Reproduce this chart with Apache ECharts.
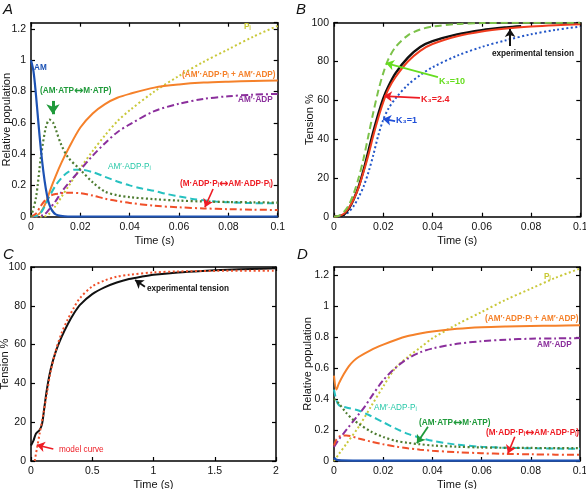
<!DOCTYPE html>
<html><head><meta charset="utf-8">
<script src="https://cdn.jsdelivr.net/npm/echarts@6/dist/echarts.min.js"></script>
<style>html,body{margin:0;padding:0;background:#fff}#c{width:586px;height:489px}</style>
</head><body><div id="c"></div>
<script>
// ---------- Panel A data (time s, relative population) ----------
const A_AM = [[0,1],[0.001,0.93],[0.002,0.78],[0.003,0.6],[0.004,0.43],[0.005,0.29],[0.006,0.18],[0.007,0.1],[0.008,0.055],[0.009,0.03],[0.01,0.015],[0.012,0.005],[0.015,0.0],[0.05,0],[0.1,0]];
const A_ATP = [[0,0],[0.002,0.12],[0.004,0.38],[0.006,0.57],[0.0075,0.62],[0.009,0.6],[0.01,0.56],[0.012,0.47],[0.015,0.38],[0.02,0.3],[0.025,0.22],[0.03,0.16],[0.035,0.137],[0.04,0.125],[0.05,0.112],[0.06,0.103],[0.07,0.097],[0.08,0.094],[0.09,0.092],[0.1,0.09]];
const A_SUM = [[0,0],[0.002,0.005],[0.004,0.03],[0.006,0.09],[0.008,0.18],[0.01,0.26],[0.0125,0.35],[0.015,0.43],[0.02,0.57],[0.025,0.66],[0.03,0.72],[0.035,0.76],[0.04,0.785],[0.05,0.825],[0.06,0.845],[0.07,0.857],[0.08,0.863],[0.09,0.867],[0.1,0.87]];
const A_ADPPI = [[0,0],[0.003,0.01],[0.005,0.05],[0.0075,0.13],[0.01,0.2],[0.0125,0.25],[0.015,0.285],[0.0175,0.3],[0.02,0.3],[0.025,0.285],[0.03,0.255],[0.035,0.225],[0.04,0.2],[0.045,0.18],[0.05,0.165],[0.055,0.145],[0.06,0.13],[0.065,0.115],[0.07,0.105],[0.075,0.097],[0.08,0.092],[0.09,0.087],[0.1,0.085]];
const A_MADPPI = [[0,0],[0.002,0.02],[0.004,0.07],[0.006,0.11],[0.008,0.135],[0.01,0.145],[0.015,0.153],[0.02,0.15],[0.025,0.135],[0.03,0.115],[0.035,0.1],[0.04,0.088],[0.05,0.07],[0.06,0.06],[0.07,0.053],[0.08,0.048],[0.09,0.045],[0.1,0.043]];
const A_ADP = [[0,0],[0.005,0.01],[0.0075,0.05],[0.01,0.1],[0.0125,0.16],[0.015,0.21],[0.02,0.3],[0.025,0.39],[0.03,0.47],[0.035,0.54],[0.04,0.59],[0.05,0.675],[0.06,0.722],[0.07,0.753],[0.08,0.77],[0.09,0.78],[0.1,0.785]];
const A_PI = [[0,0],[0.005,0.0],[0.0075,0.02],[0.01,0.07],[0.0125,0.13],[0.015,0.19],[0.02,0.31],[0.025,0.42],[0.03,0.52],[0.035,0.61],[0.04,0.68],[0.05,0.8],[0.06,0.9],[0.07,0.99],[0.08,1.07],[0.09,1.15],[0.1,1.22]];

// ---------- Panel B data (time s, tension %) ----------
const B_K10 = [[0,0],[0.002,0.5],[0.004,2.5],[0.006,6],[0.008,12],[0.01,20],[0.012,30],[0.014,42],[0.016,54],[0.018,65],[0.02,74],[0.022,81],[0.025,87.5],[0.03,93.5],[0.035,96.5],[0.04,98],[0.05,99.3],[0.06,99.8],[0.08,100],[0.1,100]];
const B_K24 = [[0,0],[0.002,0.3],[0.004,1.5],[0.006,4.5],[0.008,9],[0.01,15],[0.012,23],[0.014,32],[0.016,42],[0.018,51],[0.02,59],[0.022,65.5],[0.025,72],[0.03,80],[0.035,85.5],[0.04,89],[0.05,93],[0.06,95.5],[0.07,97],[0.08,98],[0.09,98.7],[0.1,99.2]];
const B_EXP = [[0,0],[0.002,0.3],[0.004,1],[0.006,4],[0.008,9],[0.01,15.5],[0.012,24],[0.014,34],[0.016,44],[0.018,53],[0.02,61],[0.022,67],[0.025,74],[0.03,82],[0.035,87.5],[0.04,90.5],[0.05,94],[0.06,96.2],[0.07,97.6],[0.076,98.2]];
const B_K1 = [[0,0],[0.002,0.1],[0.004,0.8],[0.006,2.5],[0.008,5.5],[0.01,10],[0.012,15.5],[0.014,23],[0.016,32],[0.018,42],[0.02,50],[0.022,55.5],[0.025,61],[0.03,68],[0.035,73],[0.04,77],[0.05,83],[0.06,87.5],[0.07,91],[0.08,94],[0.09,96.3],[0.1,98]];

// ---------- Panel C data (time s, tension %) ----------
const C_EXP = [[0,8],[0.02,10.5],[0.04,14],[0.07,16],[0.09,19],[0.11,28],[0.13,37],[0.16,47],[0.2,56],[0.25,64],[0.3,70.5],[0.35,76],[0.4,80.5],[0.5,86],[0.6,89.5],[0.7,92],[0.8,93.8],[0.9,95],[1.0,96],[1.2,97.2],[1.4,98],[1.6,98.6],[1.8,99],[2.0,99.3]];
const C_MODEL = [[0.03,0],[0.05,7],[0.07,14],[0.1,24],[0.13,35],[0.16,46],[0.2,56.5],[0.25,66],[0.3,73],[0.35,79],[0.4,84],[0.5,90],[0.6,93],[0.7,95],[0.8,96],[1.0,97.2],[1.2,97.7],[1.5,98],[2.0,98.1]];

// ---------- Panel D data (time s, relative population) ----------
const D_AM = [[0,0.02],[0.001,0.008],[0.003,0.004],[0.01,0.003],[0.1,0.003]];
const D_SUM = [[0,0.55],[0.001,0.46],[0.002,0.5],[0.004,0.56],[0.006,0.61],[0.008,0.645],[0.01,0.67],[0.015,0.715],[0.02,0.75],[0.025,0.78],[0.03,0.805],[0.035,0.822],[0.04,0.835],[0.05,0.852],[0.06,0.862],[0.07,0.867],[0.08,0.87],[0.09,0.872],[0.1,0.874]];
const D_ADP = [[0,0.09],[0.002,0.14],[0.004,0.18],[0.006,0.22],[0.008,0.26],[0.01,0.3],[0.0125,0.35],[0.015,0.41],[0.02,0.52],[0.025,0.6],[0.03,0.66],[0.035,0.7],[0.04,0.725],[0.05,0.755],[0.06,0.772],[0.07,0.782],[0.08,0.788],[0.09,0.79],[0.1,0.792]];
const D_PI = [[0,0],[0.002,0.045],[0.005,0.11],[0.01,0.22],[0.015,0.35],[0.02,0.48],[0.025,0.6],[0.03,0.67],[0.035,0.73],[0.04,0.79],[0.05,0.88],[0.06,0.96],[0.07,1.04],[0.08,1.11],[0.09,1.18],[0.1,1.24]];
const D_ADPPI = [[0,0.46],[0.001,0.39],[0.002,0.36],[0.005,0.345],[0.01,0.325],[0.015,0.29],[0.02,0.25],[0.025,0.21],[0.03,0.175],[0.035,0.15],[0.04,0.13],[0.05,0.105],[0.06,0.092],[0.07,0.085],[0.08,0.082],[0.09,0.08],[0.1,0.079]];
const D_ATP = [[0,0.4],[0.002,0.37],[0.005,0.31],[0.0075,0.27],[0.01,0.24],[0.015,0.19],[0.02,0.155],[0.025,0.13],[0.03,0.117],[0.035,0.108],[0.04,0.1],[0.05,0.092],[0.06,0.087],[0.07,0.085],[0.08,0.084],[0.1,0.083]];
const D_MADPPI = [[0,0.1],[0.001,0.14],[0.0025,0.16],[0.005,0.165],[0.01,0.145],[0.015,0.125],[0.02,0.108],[0.025,0.093],[0.03,0.082],[0.035,0.073],[0.04,0.066],[0.05,0.057],[0.06,0.05],[0.07,0.046],[0.08,0.043],[0.09,0.041],[0.1,0.04]];

// ---------- Axis ticks ----------
const popTicks = [0, 0.2, 0.4, 0.6, 0.8, 1, 1.2];
const tensionTicks = [0, 20, 40, 60, 80, 100];
const timeTicksShort = [0, 0.02, 0.04, 0.06, 0.08, 0.1];
const timeTicksLong = [0, 0.5, 1, 1.5, 2];

const FONT = 'Liberation Sans, Arial, sans-serif';
const COL = {blue:'#1d52b4', orange:'#f5812a', green:'#4f7d32', greenLbl:'#1f9a3a', cyan:'#26c1c0', cyanLbl:'#27c8a8', purple:'#8b2f9c', red:'#f0502a', redLbl:'#ee1c24', yellow:'#c9c83a', yellowLbl:'#c8c832'};

const grids = [
  {left:31, top:22.7, width:246.7, height:194},
  {left:334, top:22.7, width:246.3, height:194},
  {left:31, top:267, width:245, height:194},
  {left:334, top:267, width:246, height:194}
].map(g => Object.assign(g, {outerBoundsMode:'none', containLabel:false}));

const xCfg = [
  {min:0,max:0.1,interval:0.02,name:'Time (s)'},
  {min:0,max:0.1,interval:0.02,name:'Time (s)'},
  {min:0,max:2,interval:0.5,name:'Time (s)'},
  {min:0,max:0.1,interval:0.02,name:'Time (s)'}
];
const yCfg = [
  {min:0,max:1.24,interval:0.2,name:'Relative population',gap:19},
  {min:0,max:100,interval:20,name:'Tension %',gap:19},
  {min:0,max:100,interval:20,name:'Tension %',gap:21},
  {min:0,max:1.25,interval:0.2,name:'Relative population',gap:21}
];

const xAxis = [], yAxis = [];
xCfg.forEach((c,i)=>{
  xAxis.push({type:'value',gridIndex:i,min:c.min,max:c.max,interval:c.interval,position:'bottom',
    name:c.name,nameLocation:'middle',nameGap:18.5,nameTextStyle:{fontFamily:FONT,fontSize:11,color:'#111'},
    axisLine:{show:true,onZero:false,lineStyle:{color:'#000',width:1.5}},
    axisTick:{show:true,inside:true,length:4,lineStyle:{color:'#000',width:1.2}},
    axisLabel:{fontFamily:FONT,fontSize:10.5,color:'#111',margin:5,formatter:v=>String(+v.toFixed(3))},
    splitLine:{show:false}});
  xAxis.push({type:'value',gridIndex:i,min:c.min,max:c.max,interval:c.interval,position:'top',
    axisLine:{show:true,onZero:false,lineStyle:{color:'#000',width:1.5}},
    axisTick:{show:true,inside:true,length:4,lineStyle:{color:'#000',width:1.2}},
    axisLabel:{show:false},splitLine:{show:false}});
});
yCfg.forEach((c,i)=>{
  yAxis.push({type:'value',gridIndex:i,min:c.min,max:c.max,interval:c.interval,position:'left',
    name:c.name,nameLocation:'middle',nameGap:c.gap,nameMoveOverlap:false,
    nameTextStyle:{fontFamily:FONT,fontSize:11,color:'#111'},
    axisLine:{show:true,onZero:false,lineStyle:{color:'#000',width:1.5}},
    axisTick:{show:true,inside:true,length:4,lineStyle:{color:'#000',width:1.2}},
    axisLabel:{fontFamily:FONT,fontSize:10.5,color:'#111',margin:5,showMaxLabel:c.max===100,
      formatter:v=>String(+v.toFixed(3))},
    splitLine:{show:false}});
  yAxis.push({type:'value',gridIndex:i,min:c.min,max:c.max,interval:c.interval,position:'right',
    axisLine:{show:true,onZero:false,lineStyle:{color:'#000',width:1.5}},
    axisTick:{show:true,inside:true,length:4,lineStyle:{color:'#000',width:1.2}},
    axisLabel:{show:false},splitLine:{show:false}});
});

const DASH = [7,4], DOT = [2,2.5], DASHDOT = [7,3,2,3];
function line(data, gi, color, type, width, z) {
  return {type:'line', xAxisIndex:2*gi, yAxisIndex:2*gi, data:data, showSymbol:false,
    smooth:0.3, z:z||2, silent:true, animation:false,
    lineStyle:{color:color, width:width||2, type:type||'solid'}};
}
function arrow(gi, from, to, color, size, width) {
  return {type:'line', xAxisIndex:2*gi, yAxisIndex:2*gi, data:[], silent:true, animation:false,
    markLine:{silent:true, animation:false, symbol:['none','arrow'], symbolSize:size||8,
      label:{show:false}, lineStyle:{color:color, width:width||1.6, type:'solid'},
      data:[[{coord:from},{coord:to}]]}};
}

const series = [
  // A
  line(A_PI,0,COL.yellow,DOT,2),
  line(A_ADP,0,COL.purple,DASHDOT,2),
  line(A_SUM,0,COL.orange,'solid',2),
  line(A_ADPPI,0,COL.cyan,DASH,2),
  line(A_MADPPI,0,COL.red,DASHDOT,2),
  line(A_ATP,0,COL.green,DOT,2.2),
  line(A_AM,0,COL.blue,'solid',2.2,5),
  arrow(0,[0.0089,0.74],[0.0089,0.655],COL.greenLbl,[10,10],3),
  arrow(0,[0.0738,0.177],[0.0705,0.061],COL.redLbl,8,1.6),
  // B
  line(B_K1,1,'#2256c8',DOT,2),
  line(B_EXP,1,'#111',"solid",2.4),
  line(B_K24,1,'#f03c1e','solid',2),
  line(B_K10,1,'#7cc24a',DASH,2),
  arrow(1,[0.0715,88],[0.0715,96.8],'#111',8,2),
  arrow(1,[0.0422,72],[0.0211,79.2],'#66dd1f',8,1.8),
  arrow(1,[0.0349,61.2],[0.0203,62.2],'#ee1c24',8,1.8),
  arrow(1,[0.0248,49.3],[0.0199,50.4],'#1f4fd8',8,1.8),
  // C
  line(C_EXP,2,'#111','solid',2),
  line(C_MODEL,2,'#f0502a',DOT,2),
  arrow(2,[0.93,89.8],[0.85,93.3],'#111',8,1.8),
  arrow(2,[0.182,6.2],[0.047,8.2],'#ee1c24',8,1.6),
  // D
  line(D_PI,3,COL.yellow,DOT,2),
  line(D_ADP,3,COL.purple,DASHDOT,2),
  line(D_SUM,3,COL.orange,'solid',2),
  line(D_ADPPI,3,COL.cyan,DASH,2),
  line(D_MADPPI,3,COL.red,DASHDOT,2),
  line(D_ATP,3,COL.green,DOT,2.2),
  line(D_AM,3,COL.blue,'solid',2.2,5),
  arrow(3,[0.0382,0.22],[0.0337,0.114],COL.greenLbl,8,1.8),
  arrow(3,[0.0735,0.156],[0.0707,0.049],COL.redLbl,8,1.6)
];

const LB = 8.2;
function txt(x,y,text,color,opts) {
  opts = opts||{};
  const size = opts.size||LB;
  const font = (opts.italic?'italic ':'')+(opts.bold===false?'':'bold ')+size+'px '+FONT;
  return {type:'text', x:x, y:y, silent:true, z:50,
    style:{text:text, fill:color, font:font, textAlign:opts.align||'left', textVerticalAlign:'middle',
      rich:{n:{font:font, fill:color}, ar:{font:'bold '+(size+3)+'px DejaVu Sans', fill:color}}}};
}
const graphic = [
  txt(3,10,'A','#111',{italic:true,bold:false,size:15}),
  txt(296,10,'B','#111',{italic:true,bold:false,size:15}),
  txt(3,255,'C','#111',{italic:true,bold:false,size:15}),
  txt(297,255,'D','#111',{italic:true,bold:false,size:15}),
  // A labels
  txt(244,27,'Pᵢ',COL.yellowLbl),
  txt(34,68,'AM',COL.blue),
  txt(182,75,'(AM′·ADP·Pᵢ + AM′·ADP)',COL.orange),
  txt(40,91,'{n|(AM·ATP}{ar|↔}{n|M·ATP)}',COL.greenLbl),
  txt(238,100,'AM′·ADP',COL.purple),
  txt(108,167,'AM′·ADP·Pᵢ',COL.cyanLbl,{bold:false}),
  txt(180,184,'{n|(M·ADP·Pᵢ}{ar|↔}{n|AM·ADP·Pᵢ)}',COL.redLbl),
  // B labels
  txt(492,54,'experimental tension','#111'),
  txt(439,82,'K₃=10','#66dd1f',{size:9}),
  txt(421,100,'K₃=2.4','#ee1c24',{size:9}),
  txt(396,121,'K₃=1','#1f4fd8',{size:9}),
  // C labels
  txt(147,289,'experimental tension','#111'),
  txt(59,450,'model curve','#ee1c24',{bold:false}),
  // D labels
  txt(544,277,'Pᵢ',COL.yellowLbl),
  txt(485,319,'(AM′·ADP·Pᵢ + AM′·ADP)',COL.orange),
  txt(537,345,'AM′·ADP',COL.purple),
  txt(374,408,'AM′·ADP·Pᵢ',COL.cyanLbl,{bold:false}),
  txt(419,423,'{n|(AM·ATP}{ar|↔}{n|M·ATP)}',COL.greenLbl),
  txt(486,433,'{n|(M·ADP·Pᵢ}{ar|↔}{n|AM·ADP·Pᵢ)}',COL.redLbl)
];

const chart = echarts.init(document.getElementById('c'), null, {renderer:'canvas'});
chart.setOption({animation:false, backgroundColor:'#fff', grid:grids, xAxis:xAxis, yAxis:yAxis, series:series, graphic:graphic});
</script></body></html>
